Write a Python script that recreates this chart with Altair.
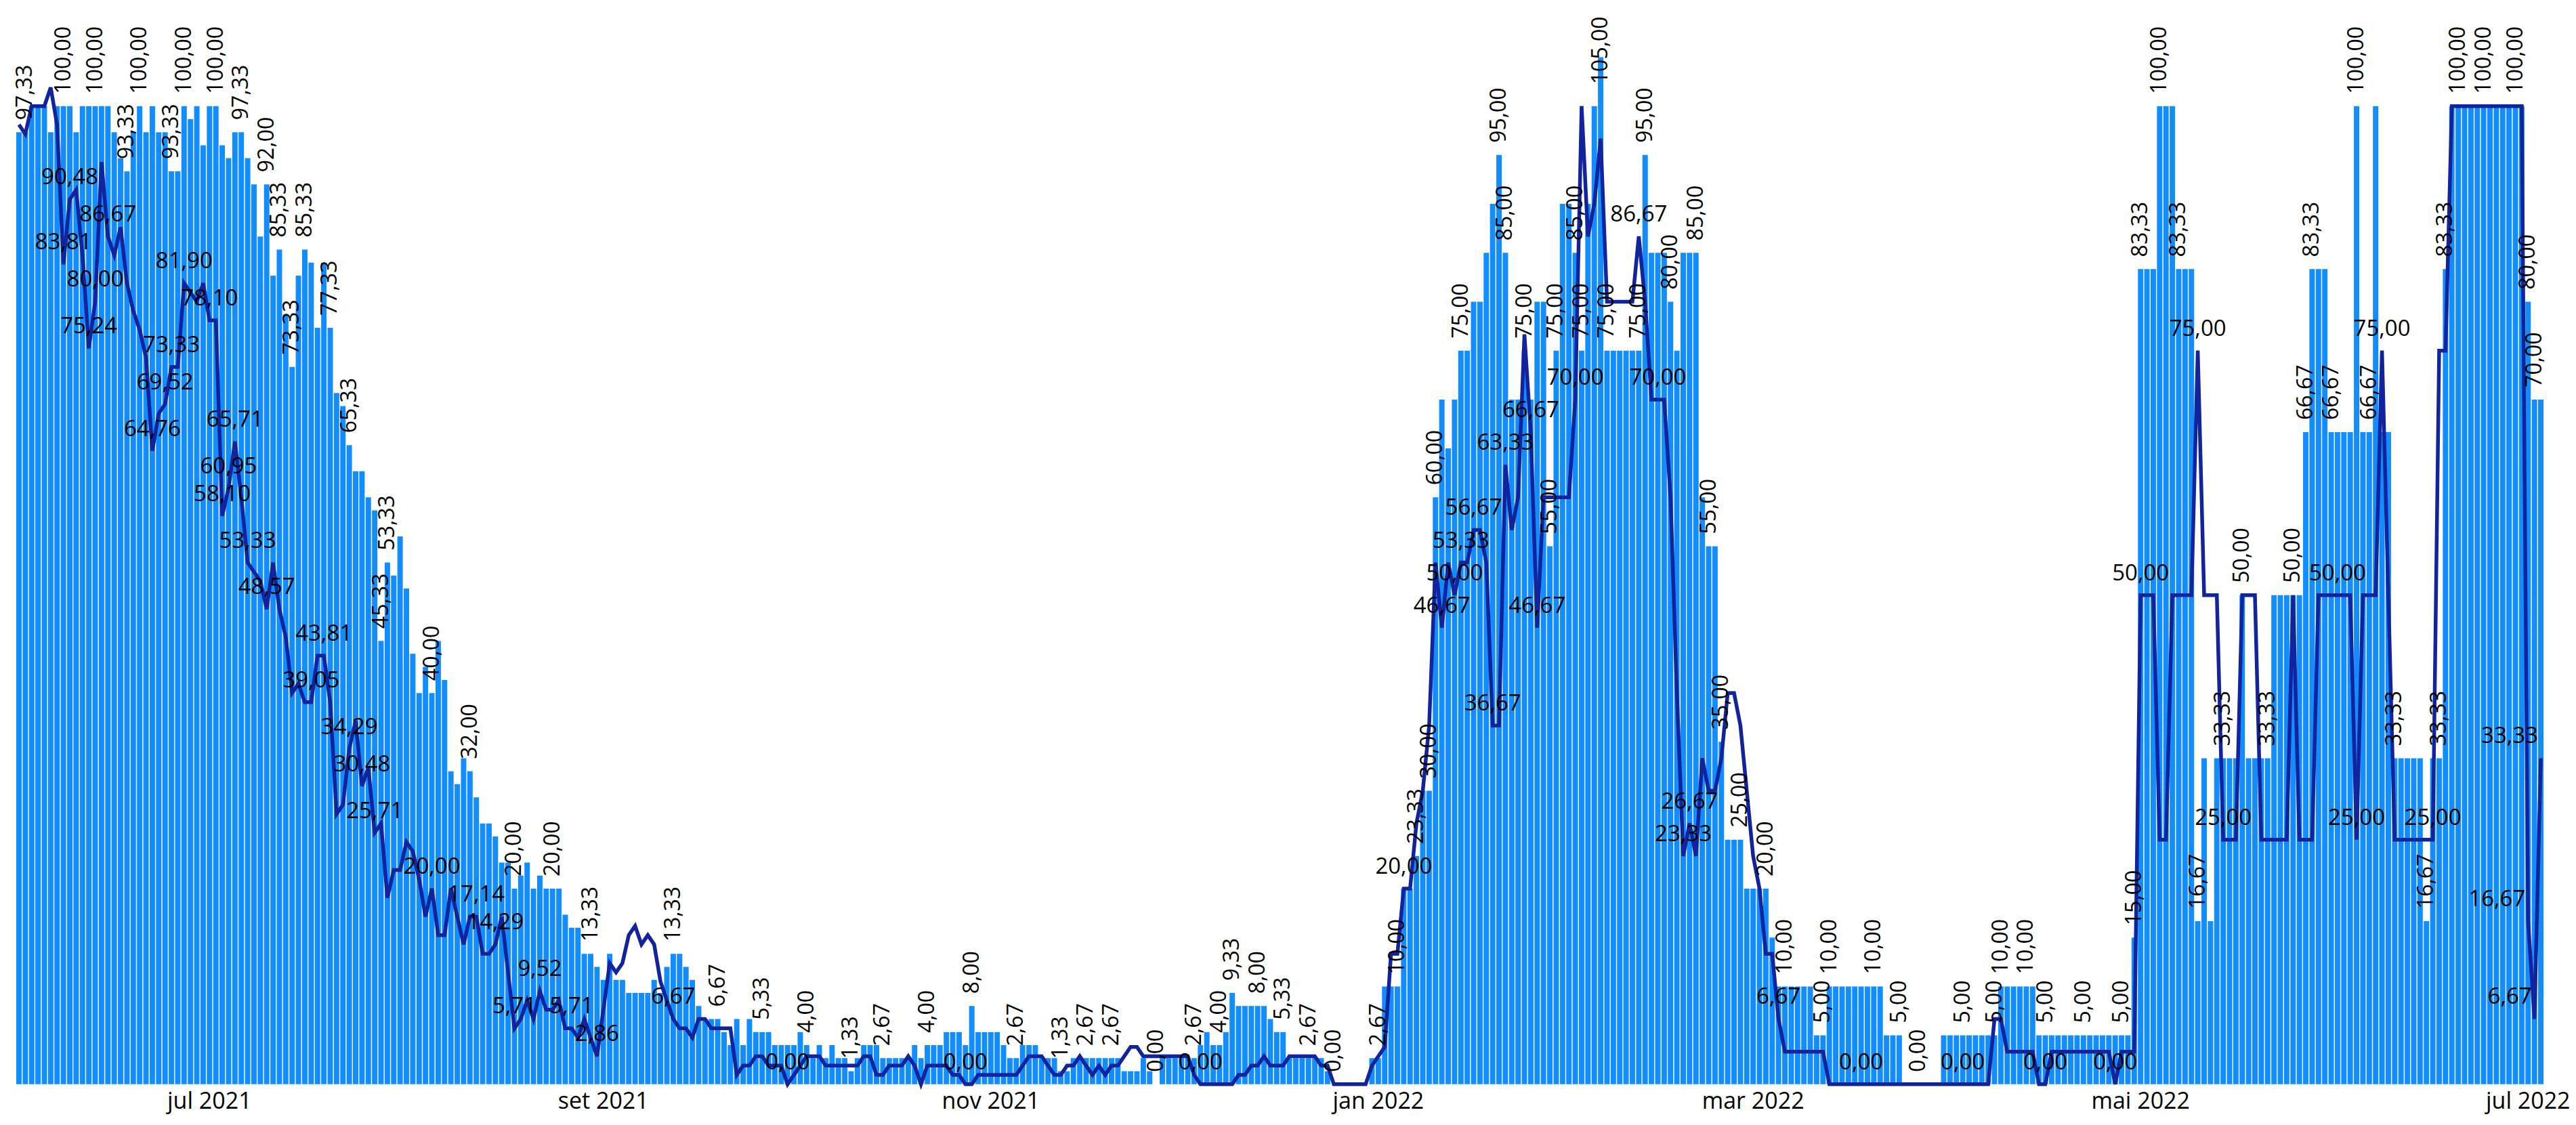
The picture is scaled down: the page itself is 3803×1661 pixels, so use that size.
import altair as alt
import pandas as pd

start_date = "2021-06-01"

bar_values = [
    97.33, 97.33, 100, 100, 100, 97.33, 100, 100, 100, 97.33,
    100, 100, 100, 100, 100, 97.33, 94.67, 93.33, 97.33, 100,
    97.33, 100, 97.33, 97.33, 93.33, 93.33, 100, 98.67, 100, 96,
    100, 100, 96, 94.67, 97.33, 97.33, 94.67, 92, 86.67, 92,
    82.67, 85.33, 78.67, 73.33, 82.67, 85.33, 84, 77.33, 84, 77.33,
    70.67, 69.33, 65.33, 62.67, 62.67, 60, 58.67, 45.33, 53.33, 52,
    56, 50.67, 44, 40, 42.67, 40, 45.33, 41.33, 32, 30.67,
    33.33, 32, 29.33, 26.67, 26.67, 25.33, 22.67, 22.67, 20, 21.33,
    22.67, 20, 21.33, 20, 20, 20, 17.33, 16, 16, 13.33,
    13.33, 12, 10.67, 13.33, 10.67, 10.67, 9.33, 9.33, 9.33, 9.33,
    10.67, 9.33, 12, 13.33, 13.33, 12, 10.67, 8, 6.67, 6.67,
    6.67, 5.33, 4, 6.67, 4, 6.67, 5.33, 5.33, 5.33, 4,
    4, 4, 4, 5.33, 4, 2.67, 4, 2.67, 4, 2.67,
    2.67, 1.33, 2.67, 4, 4, 4, 2.67, 2.67, 2.67, 2.67,
    2.67, 4, 2.67, 4, 4, 4, 5.33, 5.33, 5.33, 4,
    8, 5.33, 5.33, 5.33, 5.33, 4, 2.67, 2.67, 4, 4,
    4, 2.67, 2.67, 2.67, 1.33, 1.33, 2.67, 2.67, 2.67, 2.67,
    2.67, 2.67, 2.67, 2.67, 1.33, 1.33, 1.33, 2.67, 1.33, 0,
    2.67, 2.67, 2.67, 2.67, 2.67, 2.67, 4, 5.33, 4, 4,
    5.33, 9.33, 8, 8, 8, 8, 8, 6.67, 5.33, 5.33,
    2.67, 2.67, 2.67, 2.67, 2.67, 2.67, 1.33, 0, 0, 0,
    0, 0, 0, 2.67, 2.67, 10, 10, 10, 20, 20,
    23.33, 30, 30, 60, 70, 65, 70, 75, 75, 80,
    80, 85, 90, 95, 85, 70, 70, 75, 70, 80,
    80, 55, 75, 90, 90, 85, 75, 90, 100, 105,
    75, 75, 75, 75, 75, 75, 95, 85, 85, 85,
    80, 75, 85, 85, 85, 60, 55, 55, 35, 25,
    25, 25, 20, 20, 20, 20, 15, 10, 10, 10,
    10, 10, 10, 5, 5, 10, 10, 10, 10, 10,
    10, 10, 10, 10, 5, 5, 5, 0, 0, 0,
    0, 0, 0, 5, 5, 5, 5, 5, 5, 5,
    5, 5, 10, 10, 10, 10, 10, 10, 5, 5,
    5, 5, 5, 5, 5, 5, 5, 5, 5, 5,
    5, 5, 5, 15, 83.33, 83.33, 83.33, 100, 100, 100,
    83.33, 83.33, 83.33, 16.67, 33.33, 16.67, 33.33, 33.33, 33.33, 33.33,
    50, 33.33, 33.33, 33.33, 33.33, 50, 50, 50, 50, 50,
    66.67, 83.33, 83.33, 83.33, 66.67, 66.67, 66.67, 66.67, 100, 66.67,
    66.67, 100, 66.67, 66.67, 33.33, 33.33, 33.33, 33.33, 33.33, 16.67,
    33.33, 33.33, 83.33, 100, 100, 100, 100, 100, 100, 100,
    100, 100, 100, 100, 100, 80, 70, 70,
]

line_values = [
    98.1, 97.14, 100, 100, 100, 101.9, 98.1, 83.81, 90.48, 91.43,
    84.76, 75.24, 80, 94.29, 86.67, 84.76, 87.62, 81.9, 79.05, 77.14,
    74.29, 64.76, 68.57, 69.52, 73.33, 73.33, 81.9, 80.95, 80, 81.9,
    78.1, 78.1, 58.1, 60.95, 65.71, 60, 53.33, 52.38, 51.43, 48.57,
    53.33, 48.57, 45.71, 40, 40.95, 39.05, 39.05, 43.81, 43.81, 39.05,
    27.62, 28.57, 34.29, 37.14, 30.48, 32.38, 25.71, 26.67, 19.05, 21.9,
    21.9, 24.76, 23.81, 20.95, 17.14, 20, 15.24, 15.24, 20, 17.14,
    14.29, 17.14, 17.14, 13.33, 13.33, 14.29, 17.14, 11.43, 5.71, 6.67,
    8.57, 6.67, 9.52, 7.62, 7.62, 8.57, 5.71, 5.71, 4.76, 6.67,
    4.76, 2.86, 7.62, 12.38, 11.43, 12.38, 15.24, 16.19, 14.29, 15.24,
    14.29, 10.48, 8.57, 6.67, 5.71, 5.71, 4.76, 6.67, 6.67, 5.71,
    5.71, 5.71, 5.71, 0.95, 1.9, 1.9, 2.86, 2.86, 1.9, 1.9,
    1.9, 0, 0.95, 1.9, 2.86, 2.86, 2.86, 1.9, 1.9, 1.9,
    1.9, 1.9, 1.9, 2.86, 2.86, 0.95, 0.95, 1.9, 1.9, 1.9,
    2.86, 1.9, 0, 1.9, 1.9, 1.9, 1.9, 0.95, 0.95, 0,
    0, 0.95, 0.95, 0.95, 0.95, 0.95, 0.95, 0.95, 1.9, 2.86,
    2.86, 2.86, 1.9, 0.95, 0.95, 1.9, 1.9, 2.86, 1.9, 0.95,
    1.9, 0.95, 1.9, 1.9, 2.86, 3.81, 3.81, 2.86, 2.86, 2.86,
    2.86, 2.86, 2.86, 2.86, 2.86, 0.95, 0, 0, 0, 0,
    0, 0, 0.95, 0.95, 1.9, 1.9, 2.86, 1.9, 1.9, 1.9,
    2.86, 2.86, 2.86, 2.86, 2.86, 1.9, 1.9, 0, 0, 0,
    0, 0, 0, 1.9, 2.86, 3.81, 13.33, 13.33, 20, 20,
    26.67, 30, 36.67, 53.33, 46.67, 53.33, 50, 53.33, 53.33, 56.67,
    56.67, 53.33, 36.67, 36.67, 63.33, 56.67, 60, 76.67, 66.67, 46.67,
    60, 60, 60, 60, 60, 70, 100, 86.67, 90, 96.67,
    80, 80, 80, 80, 80, 86.67, 80, 70, 70, 70,
    60, 40, 23.33, 26.67, 23.33, 33.33, 30, 30, 33.33, 40,
    40, 36.67, 30, 23.33, 20, 13.33, 13.33, 6.67, 3.33, 3.33,
    3.33, 3.33, 3.33, 3.33, 3.33, 0, 0, 0, 0, 0,
    0, 0, 0, 0, 0, 0, 0, 0, 0, 0,
    0, 0, 0, 0, 0, 0, 0, 0, 0, 0,
    0, 6.67, 6.67, 3.33, 3.33, 3.33, 3.33, 3.33, 0, 0,
    3.33, 3.33, 3.33, 3.33, 3.33, 3.33, 3.33, 3.33, 3.33, 3.33,
    0, 3.33, 3.33, 3.33, 50, 50, 50, 25, 25, 50,
    50, 50, 50, 75, 50, 50, 50, 25, 25, 25,
    50, 50, 50, 25, 25, 25, 25, 25, 50, 25,
    25, 25, 50, 50, 50, 50, 50, 50, 25, 50,
    50, 50, 75, 50, 25, 25, 25, 25, 25, 25,
    25, 75, 75, 100, 100, 100, 100, 100, 100, 100,
    100, 100, 100, 100, 100, 16.67, 6.67, 33.33,
]

# day indexes (0 = first day) that carry a value label
bar_label_days = [
    1, 7, 12, 17, 19, 24, 26, 31, 35, 39, 41, 43, 45, 49, 52, 57, 58, 65, 71,
    78, 84, 90, 103, 110, 117, 124, 131, 136, 143, 150, 157, 164, 168, 172,
    179, 185, 189, 191, 195, 199, 203, 207, 214, 217, 220, 222, 223, 227,
    233, 234, 237, 241, 242, 245, 246, 249, 250, 255, 256, 260, 264, 266,
    268, 271, 275, 278, 284, 285, 292, 296, 299, 306, 311, 312, 316, 319,
    325, 331, 333, 334, 337, 340, 343, 347, 350, 354, 358, 360, 361, 364,
    368, 370, 374, 379, 381, 382, 384, 388, 393, 395, 396,
]
line_label_days = [
    7, 8, 11, 12, 14, 21, 23, 24, 26, 30, 32, 33, 34, 36, 39, 46, 48, 52, 54,
    56, 65, 72, 75, 78, 82, 87, 91, 103, 121, 149, 186, 218, 224, 226, 227,
    229, 232, 234, 238, 239, 245, 255, 258, 262, 263, 277, 290, 306, 319,
    330, 334, 343, 347, 365, 368, 372, 380,
]
line_label_right_days = [395, 396, 397]

tick_dates = ["2021-07-01", "2021-09-01", "2021-11-01", "2022-01-01",
              "2022-03-01", "2022-05-01", "2022-07-01"]
tick_labels = ["jul 2021", "set 2021", "nov 2021", "jan 2022",
               "mar 2022", "mai 2022", "jul 2022"]

dates = pd.date_range(start_date, periods=len(bar_values), freq="D").strftime("%Y-%m-%d")
df = pd.DataFrame({"date": list(dates), "bar": bar_values, "line": line_values})
df["bl"] = [1 if i in bar_label_days else 0 for i in range(len(df))]
df["ll"] = [1 if i in line_label_days else 0 for i in range(len(df))]
df["lr"] = [1 if i in line_label_right_days else 0 for i in range(len(df))]

label_expr = "".join(
    f"datum.value == '{d}' ? '{t}' : " for d, t in zip(tick_dates, tick_labels)
) + "''"

FONT = "Open Sans"
x_enc = alt.X(
    "date:O",
    scale=alt.Scale(paddingInner=0.15, paddingOuter=0),
    axis=alt.Axis(
        values=tick_dates, labelExpr=label_expr, labelAngle=0, ticks=False,
        domain=False, grid=False, title=None, labelFontSize=34,
        labelFont=FONT, labelColor="#000000", labelPadding=9,
    ),
)
yscale = alt.Scale(domain=[0, 110], nice=False)

base = alt.Chart(df)

bars = base.mark_bar(color="#118DFF").encode(
    x=x_enc, y=alt.Y("bar:Q", scale=yscale, axis=None)
)
line = base.mark_line(color="#12239E", strokeWidth=5.5).encode(
    x=x_enc, y=alt.Y("line:Q", scale=yscale, axis=None)
)
bar_labels = base.transform_filter("datum.bl == 1").transform_calculate(
    ly="min(datum.bar, 101)",
    txt="replace(format(datum.bar, '.2f'), '.', ',')",
).mark_text(
    angle=270, align="left", baseline="middle", dx=18, fontSize=32,
    font=FONT, color="#000000",
).encode(x=x_enc, y=alt.Y("ly:Q", scale=yscale, axis=None), text="txt:N")

line_labels = base.transform_filter("datum.ll == 1").transform_calculate(
    txt="replace(format(datum.line, '.2f'), '.', ',')",
).mark_text(
    align="center", baseline="alphabetic", dy=-22, fontSize=33,
    font=FONT, color="#000000",
).encode(x=x_enc, y=alt.Y("line:Q", scale=yscale, axis=None), text="txt:N")

line_labels_r = base.transform_filter("datum.lr == 1").transform_calculate(
    txt="replace(format(datum.line, '.2f'), '.', ',')",
).mark_text(
    align="right", baseline="alphabetic", dx=-4, dy=-22, fontSize=33,
    font=FONT, color="#000000",
).encode(x=x_enc, y=alt.Y("line:Q", scale=yscale, axis=None), text="txt:N")

chart = alt.layer(bars, line, bar_labels, line_labels, line_labels_r).properties(
    width=3732, height=1589,
    padding={"left": 8, "top": 4, "right": 0, "bottom": 8},
).configure_view(stroke=None)

chart.save("out.html", embed_options={"renderer": "svg", "actions": False})
